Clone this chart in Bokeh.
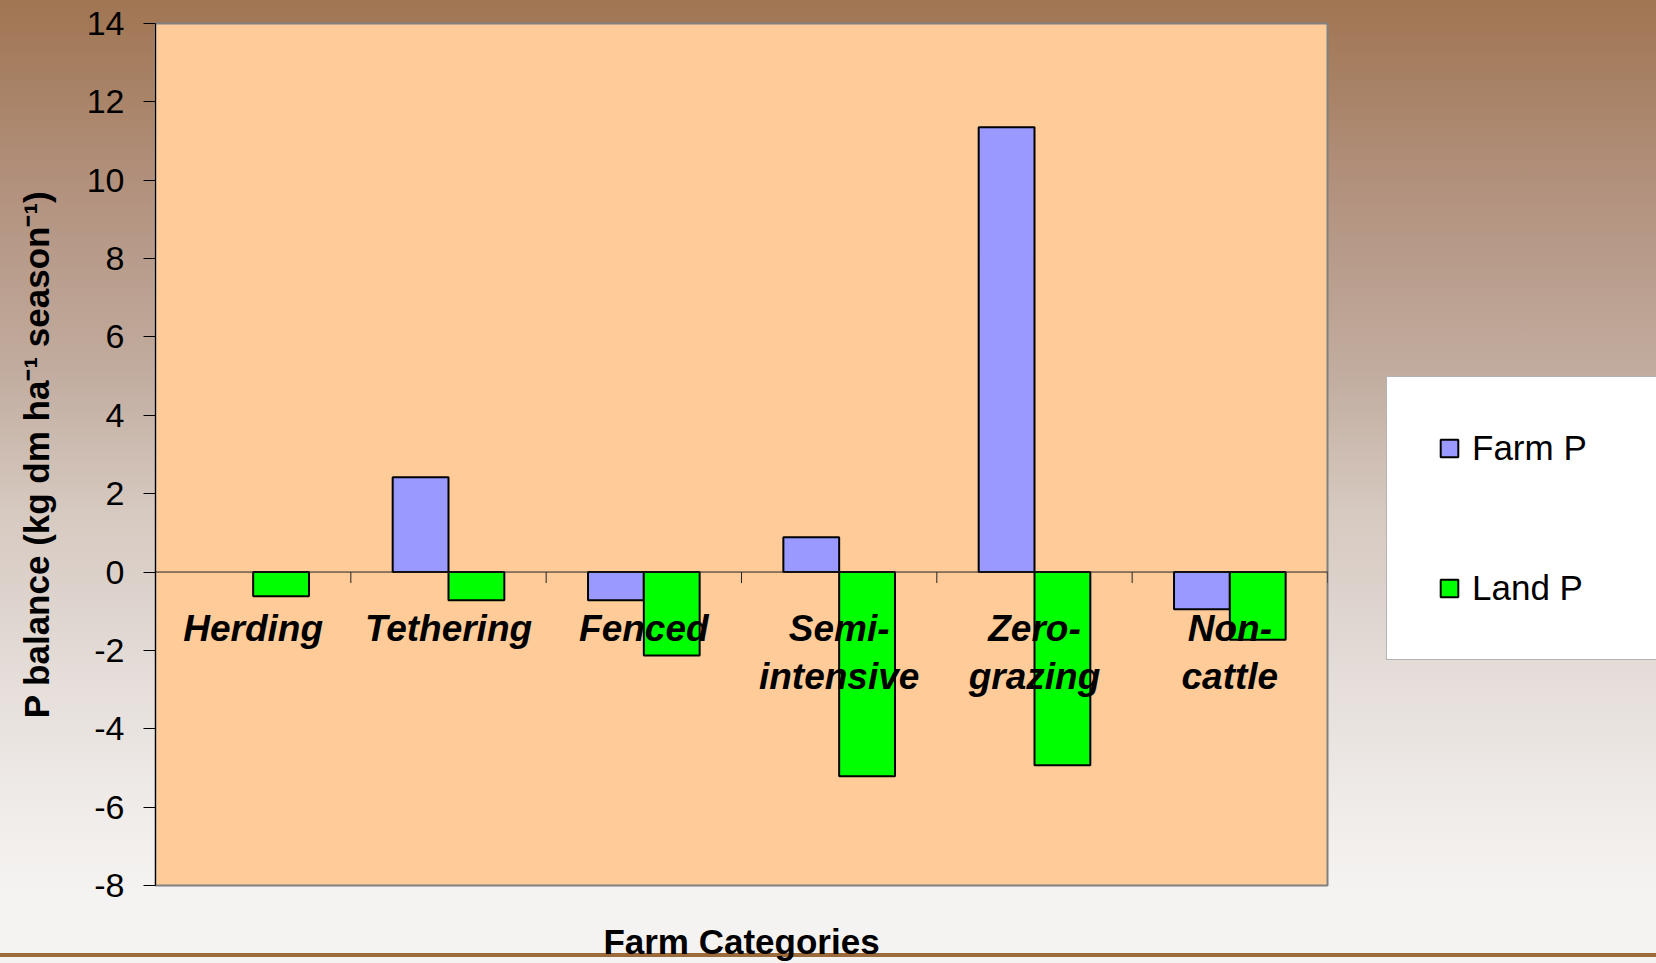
from bokeh.plotting import figure
from bokeh.layouts import row
from bokeh.models import (ColumnDataSource, FactorRange, Range1d, FixedTicker, Span,
                          Legend, LegendItem, LinearAxis)
from bokeh.transform import dodge
from bokeh.core.properties import value
from bokeh.embed import file_html
from bokeh.resources import INLINE

# ---- data ----
categories = ["Herding", "Tethering", "Fenced", "Semi-intensive", "Zero-grazing", "Non-cattle"]
category_labels = ["Herding", "Tethering", "Fenced", "Semi-\nintensive", "Zero-\ngrazing", "Non-\ncattle"]
farm_p = [0.0, 2.42, -0.72, 0.89, 11.35, -0.95]
land_p = [-0.62, -0.72, -2.13, -5.21, -4.93, -1.73]
series_names = ["Farm P", "Land P"]
series_colors = ["#9999FF", "#00FF00"]
y_ticks = [-8, -6, -4, -2, 0, 2, 4, 6, 8, 10, 12, 14]
y_tick_labels = ["-8", "-6", "-4", "-2", "0", "2", "4", "6", "8", "10", "12", "14"]
x_title = "Farm Categories"
y_title = "P balance (kg dm ha\u207b\u00b9 season\u207b\u00b9)"

FONT = "Liberation Sans"
bar_w = 1 / 3.5  # Excel gap width 150%
GRADIENT = ("linear-gradient(to bottom, #A07552 0px, #B39380 200px, #C2ADA0 377px, "
            "#D6C9C0 510px, #E3DBD6 660px, #F0ECEA 810px, #F5F3F1 900px, "
            "#F5F3F1 953px, #9B6B3B 953px, #9B6B3B 957px, #F5F3F1 957px)")

src = ColumnDataSource(dict(cat=categories, label=category_labels, farm=farm_p, land=land_p,
                            zero=[0] * len(categories),
                            farm_la=[0.0 if v == 0 else 1.0 for v in farm_p],
                            land_la=[0.0 if v == 0 else 1.0 for v in land_p]))

p = figure(x_range=FactorRange(factors=categories), y_range=Range1d(y_ticks[0], y_ticks[-1]),
           width=1340, height=963, output_backend="svg", toolbar_location=None,
           x_axis_location=None,
           min_border_left=155, min_border_right=13, min_border_top=23, min_border_bottom=78)

p.styles = {"background": GRADIENT}
p.border_fill_color = None
p.background_fill_color = "#FFCC99"
p.outline_line_color = "#808080"
p.outline_line_width = 2
p.xgrid.visible = False
p.ygrid.visible = False

p.vbar(x=dodge("cat", -bar_w / 2, range=p.x_range), top="farm", width=bar_w, source=src,
       fill_color=series_colors[0], line_color="black", line_width=2, line_alpha="farm_la")
p.vbar(x=dodge("cat", bar_w / 2, range=p.x_range), top="land", width=bar_w, source=src,
       fill_color=series_colors[1], line_color="black", line_width=2, line_alpha="land_la")

# category axis drawn at zero
p.add_layout(Span(location=0, dimension="width", line_color="#222222", line_width=1))
n = len(categories)
p.segment(x0=list(range(n + 1)), x1=list(range(n + 1)), y0=[0] * (n + 1), y1=[-0.28] * (n + 1),
          line_color="#222222", line_width=1)

p.text(x="cat", y="zero", text="label", source=src, text_font=value(FONT),
       text_font_style="bold italic", text_font_size="37px", text_color="black",
       text_align="center", text_baseline="top", y_offset=36, text_line_height=1.18)

# y axis
yax = p.yaxis[0]
yax.ticker = FixedTicker(ticks=y_ticks)
yax.major_label_overrides = {t: l for t, l in zip(y_ticks, y_tick_labels)}
yax.minor_tick_line_color = None
yax.major_tick_in = 0
yax.major_tick_out = 12
yax.major_tick_line_color = "black"
yax.axis_line_color = "black"
yax.axis_line_width = 1
yax.major_label_text_font = FONT
yax.major_label_text_font_size = "34px"
yax.major_label_text_color = "black"
yax.major_label_standoff = 19
yax.axis_label = y_title
yax.axis_label_text_font = FONT
yax.axis_label_text_font_style = "bold"
yax.axis_label_text_font_size = "35px"
yax.axis_label_text_color = "black"
yax.axis_label_standoff = 28

# x axis (title only)
xax = LinearAxis(ticker=FixedTicker(ticks=[]), axis_line_color=None,
                 major_tick_line_color=None, minor_tick_line_color=None,
                 major_tick_out=0, major_tick_in=0, major_label_standoff=0,
                 axis_label=x_title, axis_label_text_font=FONT,
                 axis_label_text_font_style="bold", axis_label_text_font_size="35px",
                 axis_label_text_color="black", axis_label_standoff=36)
p.add_layout(xax, "below")

# ---- legend panel (right strip of the slide) ----
lg = figure(width=316, height=963, output_backend="svg", toolbar_location=None,
            x_range=Range1d(0, 1), y_range=Range1d(0, 1),
            x_axis_location=None, y_axis_location=None,
            min_border_left=0, min_border_right=0, min_border_top=0, min_border_bottom=0)
lg.styles = {"background": GRADIENT}
lg.border_fill_color = None
lg.background_fill_color = None
lg.outline_line_color = None
lg.xgrid.visible = False
lg.ygrid.visible = False
nan = float("nan")
key_src = ColumnDataSource(dict(x=[nan], top=[nan]))  # no visible mark, only legend keys
key_renderers = [lg.vbar(x="x", top="top", width=0.1, source=key_src, fill_color=c,
                         line_color="black", line_width=2) for c in series_colors]

legend = Legend(items=[LegendItem(label=nm, renderers=[r]) for nm, r in zip(series_names, key_renderers)],
                location=(46, 225), orientation="vertical",
                glyph_width=22, glyph_height=22, label_standoff=12,
                label_text_font=FONT, label_text_font_size="35px", label_text_color="black",
                padding=51, spacing=100, margin=0, label_width=150,
                border_line_color="#666666", border_line_width=1,
                background_fill_color="white", background_fill_alpha=1.0)
lg.add_layout(legend, "center")

open("out.html", "w").write(file_html(row(p, lg, spacing=0), INLINE))
